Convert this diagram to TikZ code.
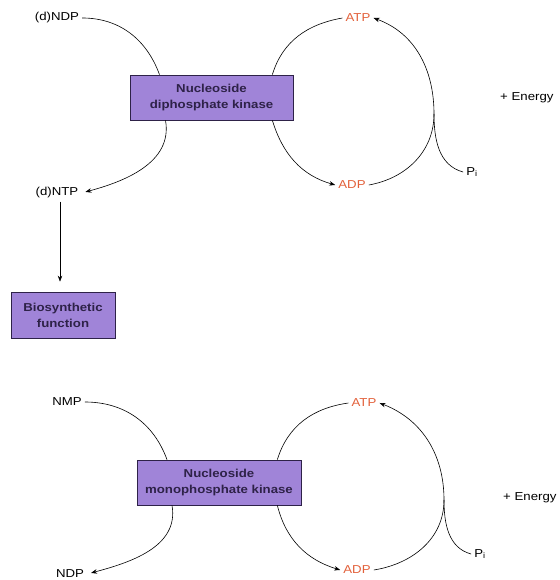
\documentclass[tikz,border=0pt]{standalone}
\usepackage{fontspec}
\setmainfont[FakeStretch=1.15]{Liberation Sans}
\usepackage{xcolor}
\usetikzlibrary{arrows.meta, positioning, calc}
\definecolor{kpurple}{HTML}{A084D8}
\definecolor{kline}{HTML}{2E2248}
\definecolor{korange}{HTML}{E2603A}

\tikzset{
  enzyme/.style={draw=kline, fill=kpurple, line width=0.7pt,
    font=\fontsize{11.5}{16}\selectfont\bfseries,
    text=kline, align=center, minimum height=45pt, inner sep=2pt},
  metab/.style={inner sep=3pt},
  nucl/.style={metab, text=korange},
  flow/.style={line width=0.6pt},
  flowarr/.style={flow, -{Stealth[length=6pt, width=4.5pt]}},
}

\begin{document}
\begin{tikzpicture}[x=1pt, y=1pt, font=\fontsize{11.5}{13}\selectfont]
\useasboundingbox (0,0) rectangle (559,580);
% top: diphosphate kinase
\node[enzyme, minimum width=163pt] (ndk) at (211.5,482.5) {Nucleoside\\diphosphate kinase};
\node[metab] (ndp) at (57,562) {(d)NDP};
\node[metab] (ntp) at (57,387) {(d)NTP};
\node[enzyme, minimum width=104pt, minimum height=46pt] (bio) at (63,265) {Biosynthetic\\function};
\node[nucl] (atpA) at (358,562) {ATP};
\node[nucl] (adpA) at (352,395) {ADP};
\node[metab] (piA) at (472,408) {P\textsubscript{i}};
\node[metab, anchor=west] (enA) at (497,482) {+ Energy};
\coordinate (ringA) at (434,466);

\draw[flow] (ndp.east) to[out=0, in=110] ([xshift=-52pt]ndk.north);
\draw[flowarr, shorten >=4pt] ([xshift=-46pt]ndk.south) to[out=-80, in=15] (ntp.east);
\draw[flowarr, shorten >=10pt] ([xshift=3pt]ntp.south) -- ([xshift=-3pt]bio.north);
\draw[flow] (atpA.west) to[out=190, in=73] ([xshift=-21pt]ndk.north east);
\draw[flowarr] ([xshift=-21pt]ndk.south east) to[out=-73, in=164] (adpA.west);
\draw[flowarr] (adpA.east) to[out=10, in=-90] (ringA) to[out=90, in=-20] (atpA.east);
\draw[flow] (ringA) to[out=-90, in=165] (piA.west);

% bottom: monophosphate kinase
\node[enzyme, minimum width=164pt] (nmk) at (219,97.5) {Nucleoside\\monophosphate kinase};
\node[metab] (nmp) at (67,178) {NMP};
\node[metab] (ndpB) at (70,6) {NDP};
\node[nucl] (atpB) at (364,177) {ATP};
\node[nucl] (adpB) at (357,10) {ADP};
\node[metab] (piB) at (480,26) {P\textsubscript{i}};
\node[metab, anchor=west] (enB) at (500,82) {+ Energy};
\coordinate (ringB) at (444,80);

\draw[flow] (nmp.east) to[out=0, in=110] ([xshift=-52pt]nmk.north);
\draw[flowarr, shorten >=4pt] ([xshift=-47pt]nmk.south) to[out=-80, in=15] (ndpB.east);
\draw[flow] (atpB.west) to[out=188, in=73] ([xshift=-24pt]nmk.north east);
\draw[flowarr] ([xshift=-24pt]nmk.south east) to[out=-76, in=163] (adpB.west);
\draw[flowarr] (adpB.east) to[out=9, in=-90] (ringB) to[out=90, in=-21] (atpB.east);
\draw[flow] (ringB) to[out=-90, in=165] (piB.west);
\end{tikzpicture}
\end{document}
